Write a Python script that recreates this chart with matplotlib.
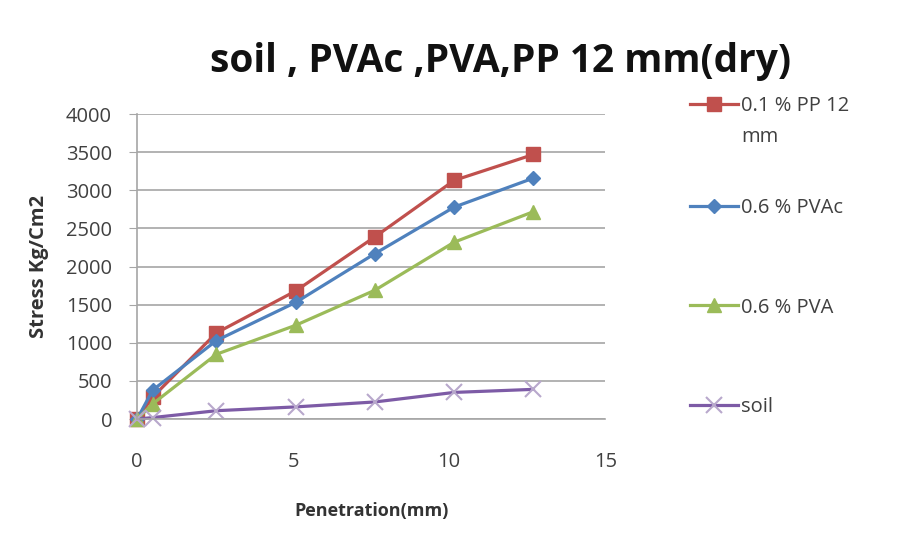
import matplotlib.pyplot as plt

# Penetration (mm) and stress readings for each mix
penetration = [0, 0.5, 2.54, 5.08, 7.62, 10.16, 12.7]
pp_12mm = [0, 290, 1130, 1680, 2390, 3130, 3470]
pvac = [0, 380, 1030, 1530, 2170, 2780, 3160]
pva = [0, 200, 850, 1230, 1690, 2320, 2720]
soil = [0, 20, 110, 160, 225, 350, 390]

labels = ['0.1 % PP 12\nmm', '0.6 % PVAc', '0.6 % PVA', 'soil']

plt.rcParams['font.family'] = ['Open Sans', 'DejaVu Sans']

fig = plt.figure(figsize=(9.02, 5.38), dpi=100)
ax = fig.add_axes([0.152, 0.221, 0.519, 0.567])

ax.plot(penetration, pp_12mm, color='#C0504D', marker='s', markersize=10, lw=2.3,
        clip_on=False, label=labels[0])
ax.plot(penetration, pvac, color='#4F81BD', marker='D', markersize=7.5, lw=2.3,
        clip_on=False, label=labels[1])
ax.plot(penetration, pva, color='#9BBB59', marker='^', markersize=9.5, lw=2.3,
        clip_on=False, label=labels[2])
ax.plot(penetration, soil, color='#7D5BA6', marker='x', markersize=11, mec='#B8A8CC',
        mew=1.5, lw=2.3, clip_on=False, label=labels[3])

ax.set_xlim(0, 15)
ax.set_ylim(0, 4000)
ax.set_xticks([0, 5, 10, 15])
ax.set_yticks(range(0, 4001, 500))
ax.yaxis.grid(True, color='#A6A6A6', lw=1.2)
ax.set_axisbelow(True)
for s in ['top', 'right']:
    ax.spines[s].set_visible(False)
for s in ['left', 'bottom']:
    ax.spines[s].set_color('#A6A6A6')
    ax.spines[s].set_linewidth(1.2)
ax.tick_params(axis='y', length=6, color='#A6A6A6', labelsize=14.5, labelcolor='#404040', pad=12)
ax.tick_params(axis='x', length=0, labelsize=14.5, labelcolor='#404040', pad=24)

ax.set_xlabel('Penetration(mm)', fontsize=13, fontweight='bold', color='#333333', labelpad=21)
ax.set_ylabel('Stress Kg/Cm2', fontsize=14.5, fontweight='bold', color='#333333', labelpad=12)

fig.text(0.555, 0.885, 'soil , PVAc ,PVA,PP 12 mm(dry)', fontsize=28, fontweight='bold',
         ha='center', va='center', color='#111111')

# Excel spaces legend entries evenly, so the wrapped first entry gets its own box
handles, names = ax.get_legend_handles_labels()
leg_style = dict(loc='upper left', frameon=False, fontsize=14.5, borderpad=0, borderaxespad=0,
                 handlelength=2.4, handletextpad=0.15, labelcolor='#404040')
leg1 = fig.legend(handles[:1], names[:1], bbox_to_anchor=(0.765, 0.822), handleheight=1.0, **leg_style)
leg1.get_texts()[0].set_linespacing(1.75)
for col in leg1._legend_handle_box.get_children():
    for item in col.get_children():
        item.align = 'top'
fig.legend(handles[1:], names[1:], bbox_to_anchor=(0.765, 0.632), labelspacing=3.95, **leg_style)

plt.savefig('out.png', dpi=100)
plt.close()
